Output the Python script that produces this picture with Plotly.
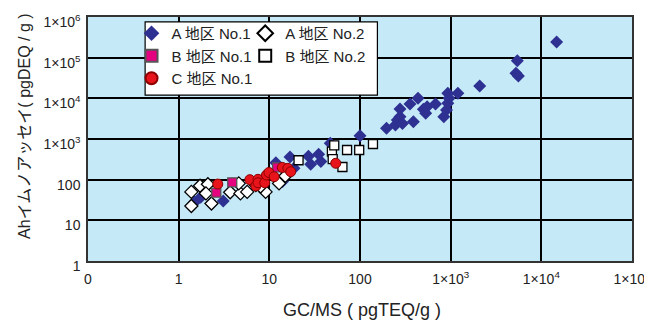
import plotly.graph_objects as go

# ---- data ----
a1_x = [1.5, 1.75, 3.1, 11.8, 14, 16.9, 18.7, 27, 28.6, 35, 37, 47, 100,
        196, 246, 258, 276, 276, 294, 356, 388, 436, 500, 530, 550, 680,
        840, 900, 930, 930, 960, 1200, 2090, 5250, 5430, 5580, 14750]
a1_y = [28, 37, 30, 260, 90, 360, 190, 375, 240, 420, 280, 785, 1200,
        1850, 2200, 2930, 5500, 3540, 2400, 7230, 2660, 10000, 5370, 4300, 6200, 7230,
        3540, 5150, 7550, 13300, 10000, 13300, 20000, 41200, 84100, 35400, 242000]

a2_x = [1.38, 1.72, 2.1, 2.0, 1.38, 2.3, 3.7, 4.8, 5.7, 9.1, 4.6, 7.1, 8.0, 12.8, 15]
a2_y = [50, 71, 77, 46, 22.5, 26, 49, 46, 50, 50, 81, 74, 68, 81, 123]

b1_x = [2.6, 3.9, 12.2]
b1_y = [48, 86, 200]

b2_x = [21, 49, 52, 50, 64, 72, 98, 139]
b2_y = [300, 490, 700, 320, 205, 537, 537, 753]

c1_x = [2.7, 6.1, 7.1, 7.5, 7.5, 8.9, 9.3, 9.9, 11.3, 13.9, 16, 17.2, 54]
c1_y = [78, 100, 70, 102, 84, 84, 130, 150, 118, 200, 190, 157, 253]

x_ticks = [0.1, 1, 10, 100, 1e3, 1e4, 1e5]
x_labels = ["0", "1", "10", "100", "1×10<sup>3</sup>", "1×10<sup>4</sup>", "1×10<sup>5</sup>"]
y_ticks = [1, 10, 100, 1e3, 1e4, 1e5, 1e6]
y_labels = ["1", "10", "100", "1×10<sup>3</sup>", "1×10<sup>4</sup>", "1×10<sup>5</sup>", "1×10<sup>6</sup>"]

series_names = ["A 地区 No.1", "A 地区 No.2", "B 地区 No.1", "B 地区 No.2", "C 地区 No.1"]
x_title = "GC/MS ( pgTEQ/g )"
y_title = "Ahイムノアッセイ( pgDEQ / g )"

FONT = "Liberation Sans, Noto Sans CJK JP, sans-serif"

fig = go.Figure()
fig.add_trace(go.Scatter(x=a1_x, y=a1_y, mode="markers", name=series_names[0],
                         legend="legend",
                         marker=dict(symbol="diamond", size=10, color="#2E3192",
                                     line=dict(width=0))))
fig.add_trace(go.Scatter(x=a2_x, y=a2_y, mode="markers", name=series_names[1],
                         legend="legend2",
                         marker=dict(symbol="diamond", size=10, color="white",
                                     line=dict(width=1.3, color="black"))))
fig.add_trace(go.Scatter(x=b1_x, y=b1_y, mode="markers", name=series_names[2],
                         legend="legend",
                         marker=dict(symbol="square", size=9, color="#E4007F",
                                     line=dict(width=1.3, color="#555555"))))
fig.add_trace(go.Scatter(x=b2_x, y=b2_y, mode="markers", name=series_names[3],
                         legend="legend2",
                         marker=dict(symbol="square", size=9, color="white",
                                     line=dict(width=1.3, color="black"))))
fig.add_trace(go.Scatter(x=c1_x, y=c1_y, mode="markers", name=series_names[4],
                         legend="legend",
                         marker=dict(symbol="circle", size=10, color="#E8141B",
                                     line=dict(width=1, color="#8B0000"))))

legend_common = dict(
    orientation="v",
    yanchor="top", xanchor="left",
    bgcolor="rgba(0,0,0,0)", borderwidth=0,
    font=dict(family=FONT, size=15, color="#222222"),
    traceorder="normal",
    itemsizing="constant",
)

# page has an 8px body margin, so the figure is offset by (8, 8);
# size it so it ends exactly at the 652x321 window edge
fig.update_layout(
    width=644, height=313,
    margin=dict(l=80, r=20, t=9, b=60),
    paper_bgcolor="white",
    plot_bgcolor="#C6E9F8",
    font=dict(family=FONT, size=14, color="#222222"),
    showlegend=True,
    legend=dict(x=0.080, y=1.0, **legend_common),
    legend2=dict(x=0.289, y=1.0, **legend_common),
    shapes=[dict(type="rect", xref="paper", yref="paper",
                 x0=0.105, x1=0.532, y0=0.680, y1=0.980,
                 fillcolor="white", line=dict(color="black", width=1.2),
                 layer="above")],
    annotations=[
        dict(text=x_title, xref="paper", yref="paper", x=0.503, y=-0.200,
             xanchor="center", yanchor="middle", showarrow=False,
             font=dict(family=FONT, size=18, color="#222222")),
        dict(text=y_title, xref="paper", yref="paper", x=-0.118, y=0.553,
             xanchor="center", yanchor="middle", showarrow=False, textangle=-90,
             font=dict(family=FONT, size=16, color="#222222")),
    ],
)

fig.update_xaxes(
    type="log", range=[-1, 5], automargin=False,
    tickvals=x_ticks, ticktext=x_labels,
    showgrid=True, gridcolor="black", gridwidth=1.5,
    showline=True, linecolor="#333333", linewidth=1.5, mirror=True,
    ticks="", tickfont=dict(size=14), ticklabelstandoff=4,
    zeroline=False,
)
fig.update_yaxes(
    type="log", range=[0, 6], automargin=False,
    tickvals=y_ticks, ticktext=y_labels,
    showgrid=True, gridcolor="black", gridwidth=1.5,
    showline=True, linecolor="#333333", linewidth=1.5, mirror=True,
    ticks="", tickfont=dict(size=14), ticklabelshift=5, ticklabelstandoff=3,
    zeroline=False,
)

fig.write_html("out.html")
